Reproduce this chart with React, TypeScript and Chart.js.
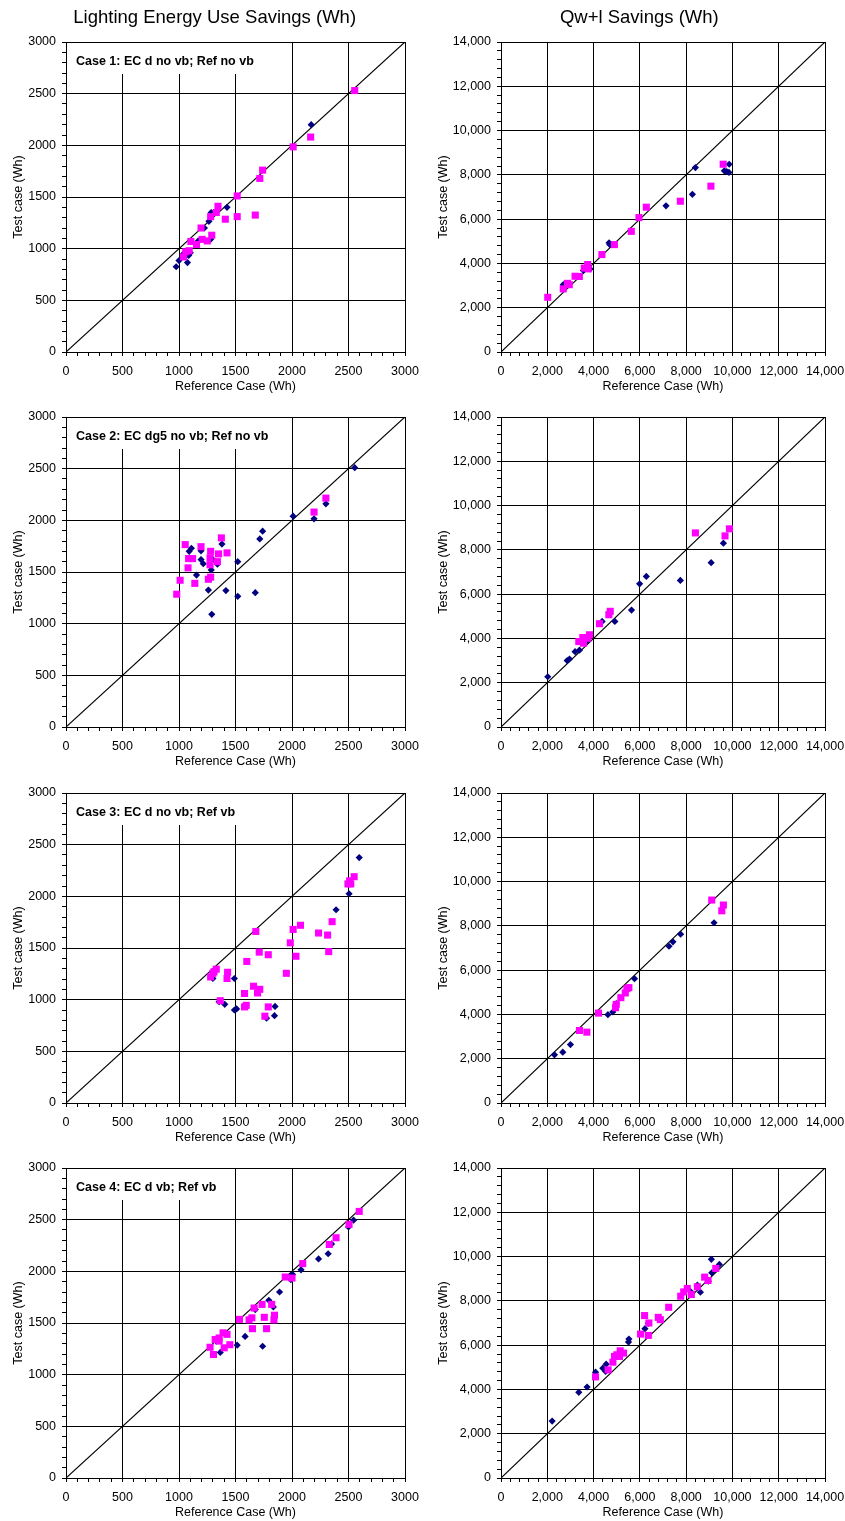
import React, { useEffect, useRef } from 'react';
import { Chart, registerables } from 'chart.js';

Chart.register(...registerables);

type P = [number, number];

const columnTitles = ['Lighting Energy Use Savings (Wh)', 'Qw+l Savings (Wh)'];
const caseLabels = [
  'Case 1: EC d no vb; Ref no vb',
  'Case 2: EC dg5 no vb; Ref no vb',
  'Case 3: EC d no vb; Ref vb',
  'Case 4: EC d vb; Ref vb',
];
const xAxisTitle = 'Reference Case (Wh)';
const yAxisTitle = 'Test case (Wh)';

// axis definitions (max, major step, minor step)
const lightingAxisMax = 3000;
const lightingMajor = 500;
const lightingMinor = 100;
const qwlAxisMax = 14000;
const qwlMajor = 2000;
const qwlMinor = 400;

// ---------- Case 1 ----------
const light1Navy: P[] = [[975,825],[1000,885],[1040,950],[1075,865],[1085,935],[1100,960],[1170,1075],[1225,1200],[1265,1265],[1280,1090],[1285,1350],[1300,1335],[1425,1400],[2170,2200]];
const light1Pink: P[] = [[1040,920],[1060,970],[1090,980],[1105,1070],[1155,1040],[1195,1200],[1205,1090],[1250,1075],[1290,1130],[1280,1310],[1330,1350],[1345,1410],[1410,1285],[1515,1510],[1515,1310],[1675,1325],[1715,1680],[1740,1760],[2010,1985],[2165,2080],[2555,2530]];
const qwl1Navy: P[] = [[2690,3040],[3560,3680],[3850,3750],[4670,4930],[4700,4850],[7130,6600],[8270,7120],[8400,8330],[9650,8180],[9750,8150],[9860,8480],[9850,8110]];
const qwl1Pink: P[] = [[2020,2470],[2690,2850],[2870,3100],[2950,3040],[3200,3420],[3385,3410],[3600,3790],[3745,3950],[3770,3755],[4360,4400],[4900,4850],[5630,5450],[5960,6070],[6280,6540],[7750,6810],[9070,7490],[9600,8480]];

// ---------- Case 2 ----------
const light2Navy: P[] = [[1090,1700],[1110,1730],[1155,1470],[1195,1705],[1195,1620],[1215,1580],[1260,1325],[1285,1520],[1290,1090],[1300,1620],[1340,1575],[1380,1770],[1415,1320],[1520,1600],[1520,1265],[1675,1300],[1715,1820],[1740,1895],[2010,2040],[2195,2015],[2300,2160],[2555,2510]];
const light2Pink: P[] = [[980,1285],[1010,1420],[1055,1765],[1080,1540],[1085,1630],[1120,1630],[1140,1390],[1195,1745],[1260,1430],[1275,1635],[1275,1570],[1280,1450],[1280,1700],[1340,1600],[1350,1675],[1375,1830],[1425,1685],[2195,2080],[2300,2215]];
const qwl2Navy: P[] = [[2020,2270],[2860,3000],[2960,3070],[3200,3400],[3390,3470],[3680,3860],[4370,4770],[4920,4770],[5640,5280],[5990,6465],[6280,6800],[7750,6620],[9080,7420],[9610,8300]];
const qwl2Pink: P[] = [[3360,3860],[3535,4040],[3565,3785],[3750,4010],[3825,4165],[4255,4665],[4660,5070],[4720,5225],[8400,8765],[9680,8630],[9870,8950]];

// ---------- Case 3 ----------
const light3Navy: P[] = [[1300,1205],[1355,980],[1405,955],[1490,1205],[1490,900],[1510,910],[1775,820],[1845,845],[1850,935],[2390,1870],[2505,2025],[2595,2375]];
const light3Pink: P[] = [[1280,1220],[1300,1255],[1310,1270],[1330,1295],[1365,990],[1425,1205],[1430,1265],[1580,1060],[1580,930],[1595,945],[1600,1370],[1660,1130],[1695,1065],[1715,1100],[1680,1660],[1710,1460],[1760,840],[1790,930],[1790,1435],[1950,1255],[1985,1550],[2010,1680],[2035,1420],[2075,1720],[2235,1645],[2315,1625],[2325,1465],[2355,1755],[2495,2120],[2510,2150],[2520,2120],[2550,2190]];
const qwl3Navy: P[] = [[2310,2175],[2670,2295],[3000,2640],[4620,3990],[4830,4110],[4980,4485],[5770,5615],[7260,7080],[7430,7280],[7760,7625],[9205,8140]];
const qwl3Pink: P[] = [[3390,3275],[3710,3200],[4215,4060],[4950,4305],[4980,4455],[5180,4755],[5370,4970],[5440,5165],[5525,5210],[9105,9165],[9540,8680],[9610,8940]];

// ---------- Case 4 ----------
const light4Navy: P[] = [[1330,1325],[1365,1215],[1515,1285],[1585,1370],[1675,1630],[1740,1275],[1795,1720],[1835,1655],[1890,1800],[1990,1920],[2005,1970],[2080,2015],[2235,2120],[2320,2170],[2350,2265],[2500,2430],[2545,2495]];
const light4Pink: P[] = [[1275,1265],[1305,1195],[1320,1340],[1355,1325],[1355,1355],[1390,1405],[1400,1260],[1425,1390],[1450,1290],[1535,1535],[1620,1530],[1645,1550],[1650,1445],[1665,1645],[1735,1680],[1755,1555],[1775,1445],[1820,1680],[1840,1530],[1845,1575],[1940,1945],[2000,1935],[2095,2075],[2330,2260],[2390,2325],[2505,2455],[2595,2580]];
const qwl4Navy: P[] = [[2210,2570],[3360,3870],[3720,4110],[4085,4780],[4400,4960],[4520,4810],[4545,5140],[5510,6140],[5527,6275],[6220,6745],[6365,6985],[8180,8435],[8485,8710],[8615,8390],[8960,8890],[9090,9875],[9105,9270],[9435,9645]];
const qwl4Pink: P[] = [[4085,4565],[4630,4885],[4835,5230],[4905,5490],[5005,5565],[5120,5490],[5150,5745],[5295,5640],[6030,6500],[6205,7335],[6365,6440],[6390,7000],[6795,7255],[6885,7150],[7245,7710],[7765,8210],[7895,8405],[8050,8560],[8225,8285],[8485,8635],[8800,9070],[8945,8920],[9280,9465]];

const lightingNavy = [light1Navy, light2Navy, light3Navy, light4Navy];
const lightingPink = [light1Pink, light2Pink, light3Pink, light4Pink];
const qwlNavy = [qwl1Navy, qwl2Navy, qwl3Navy, qwl4Navy];
const qwlPink = [qwl1Pink, qwl2Pink, qwl3Pink, qwl4Pink];

const FONT = '"Liberation Sans", Arial, Helvetica, sans-serif';
Chart.defaults.font.family = FONT;
Chart.defaults.color = '#000';

const caseLabelPlugin = {
  id: 'caseLabel',
  beforeDatasetsDraw(chart: any, _args: any, opts: any) {
    if (!opts || !opts.text) return;
    const { ctx, chartArea: a } = chart;
    ctx.save();
    ctx.font = 'bold 12.5px ' + FONT;
    const w = ctx.measureText(opts.text).width;
    ctx.fillStyle = '#ffffff';
    ctx.fillRect(a.left + 1, a.top + 1, w + 16, 31);
    ctx.fillStyle = '#000';
    ctx.textBaseline = 'middle';
    ctx.textAlign = 'left';
    ctx.fillText(opts.text, a.left + 10, a.top + 20);
    ctx.restore();
  },
};

const CANVAS_H = 400;
const PLOT_TOP = 42;
const PLOT_H = 310;
const PLOT_RIGHT = 405;

function Panel(props: { left: number; top: number; width: number; lighting: boolean; navy: P[]; pink: P[]; label: string }) {
  const ref = useRef<HTMLCanvasElement>(null);
  useEffect(() => {
    const { lighting, navy, pink, label, width } = props;
    const max = lighting ? lightingAxisMax : qwlAxisMax;
    const major = lighting ? lightingMajor : qwlMajor;
    const minor = lighting ? lightingMinor : qwlMinor;
    const yAxisWidth = lighting ? 66 : 81;
    const fmt = (v: number) => (lighting ? String(v) : v.toLocaleString('en-US'));
    const isMajor = (v: number) => Math.abs(v % major) < 1e-6;
    const ticks = (pad: number) => ({
      stepSize: minor,
      autoSkip: false,
      maxRotation: 0,
      minRotation: 0,
      padding: pad,
      color: '#000',
      font: { size: 12.5 },
      callback: (v: any) => (isMajor(Number(v)) ? fmt(Number(v)) : ''),
    });
    const grid = {
      color: (c: any) => (c.tick && isMajor(c.tick.value) ? '#000' : 'rgba(0,0,0,0)'),
      lineWidth: 1,
      drawTicks: true,
      tickLength: 4,
      tickColor: '#000',
      tickWidth: 1,
    };
    const padding = { left: 0, top: PLOT_TOP, right: width - PLOT_RIGHT, bottom: 0 };
    const chart = new Chart(ref.current as HTMLCanvasElement, {
      type: 'scatter',
      data: {
        datasets: [
          {
            label: 'Magenta',
            data: pink.map(([x, y]) => ({ x, y })),
            pointStyle: 'rect',
            pointRadius: 5,
            backgroundColor: '#FF00FF',
            borderColor: '#FF00FF',
            pointBorderWidth: 0,
            borderWidth: 0,
          },
          {
            label: 'Navy',
            data: navy.map(([x, y]) => ({ x, y })),
            pointStyle: 'rectRot',
            pointRadius: 3.6,
            backgroundColor: '#000080',
            borderColor: '#000080',
            pointBorderWidth: 0,
            borderWidth: 0,
          },
          {
            label: 'Equal',
            data: [{ x: 0, y: 0 }, { x: max, y: max }],
            showLine: true,
            pointRadius: 0,
            borderColor: '#000',
            borderWidth: 1.2,
            fill: false,
          },
        ],
      } as any,
      options: {
        responsive: false,
        animation: false,
        devicePixelRatio: 1,
        events: [],
        layout: { padding },
        plugins: {
          legend: { display: false },
          tooltip: { enabled: false },
          caseLabel: { text: label },
        } as any,
        scales: {
          x: {
            type: 'linear',
            min: 0,
            max,
            ticks: ticks(8),
            grid,
            border: { display: true, color: '#000', width: 1 },
            title: { display: true, text: xAxisTitle, color: '#000', font: { size: 12.5 }, padding: { top: 0, bottom: 5.5 } },
            afterFit: (s: any) => {
              s.height = CANVAS_H - PLOT_TOP - PLOT_H;
              s.paddingLeft = 0;
              s.paddingRight = 0;
            },
          },
          y: {
            type: 'linear',
            min: 0,
            max,
            ticks: ticks(6),
            grid,
            border: { display: true, color: '#000', width: 1 },
            title: { display: true, text: yAxisTitle, color: '#000', font: { size: 12.5 }, padding: { top: lighting ? 11.5 : 16.5, bottom: 0 } },
            afterFit: (s: any) => {
              s.width = yAxisWidth;
              s.paddingTop = 0;
              s.paddingBottom = 0;
            },
          },
        } as any,
      },
      plugins: [caseLabelPlugin],
    });
    return () => chart.destroy();
  }, []);
  return (
    <canvas
      ref={ref}
      width={props.width}
      height={CANVAS_H}
      style={{ position: 'absolute', left: props.left, top: props.top, width: props.width, height: CANVAS_H }}
    />
  );
}

const rowTops = [0, 375, 751, 1126];

export default function App() {
  return (
    <div style={{ position: 'absolute', left: 0, top: 0, width: 845, height: 1521, overflow: 'hidden', background: '#fff' }}>
      {rowTops.map((t, i) => (
        <React.Fragment key={i}>
          <Panel left={0} top={t} width={420} lighting={true} navy={lightingNavy[i]} pink={lightingPink[i]} label={caseLabels[i]} />
          <Panel left={420} top={t} width={425} lighting={false} navy={qwlNavy[i]} pink={qwlPink[i]} label={''} />
        </React.Fragment>
      ))}
      <div style={{ position: 'absolute', left: 214.7 - 200, top: 6, width: 400, textAlign: 'center', fontFamily: FONT, fontSize: 18.5, lineHeight: '21px', color: '#000' }}>
        {columnTitles[0]}
      </div>
      <div style={{ position: 'absolute', left: 639.3 - 200, top: 6, width: 400, textAlign: 'center', fontFamily: FONT, fontSize: 18.5, lineHeight: '21px', color: '#000' }}>
        {columnTitles[1]}
      </div>
    </div>
  );
}
